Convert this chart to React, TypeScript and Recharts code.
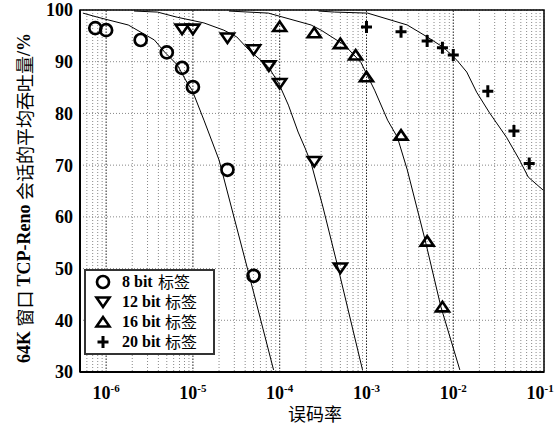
import React from "react";
import {
  ScatterChart, Scatter, XAxis, YAxis, CartesianGrid,
  ReferenceLine, ReferenceArea, Legend, Label,
} from "recharts";

// 实测点（误码率 / 平均吞吐量 %）
const BER_8 = [7.5e-7, 1e-6, 2.5e-6, 5e-6, 7.5e-6, 1e-5, 2.5e-5, 5e-5];
const THR_8 = [96.5, 96.1, 94.2, 91.8, 88.8, 85.1, 69.1, 48.6];
const BER_12 = [7.5e-6, 1e-5, 2.5e-5, 5e-5, 7.5e-5, 1e-4, 2.5e-4, 5e-4];
const THR_12 = [96.3, 96.3, 94.6, 92.3, 89.2, 85.8, 70.7, 50.1];
const BER_16 = [1e-4, 2.5e-4, 5e-4, 7.5e-4, 1e-3, 2.5e-3, 5e-3, 7.5e-3];
const THR_16 = [96.8, 95.6, 93.5, 91.3, 87.1, 75.8, 55.3, 42.6];
const BER_20 = [1e-3, 2.5e-3, 5e-3, 7.5e-3, 1e-2, 2.5e-2, 5e-2, 7.5e-2];
const THR_20 = [96.7, 95.8, 94.0, 92.7, 91.3, 84.3, 76.6, 70.3];

// 理论曲线
const CURVE_8_X = [5.4e-7, 8e-7, 1.8e-6, 3.6e-6, 4.7e-6, 6.6e-6, 8.6e-6, 9.8e-6, 1.34e-5, 2e-5, 4.5e-5, 8.5e-5];
const CURVE_8_Y = [99.4, 98.6, 97.1, 94.2, 91.9, 89.4, 85.9, 84.5, 78.7, 71.0, 48.4, 30.4];
const CURVE_12_X = [2.1e-6, 3.9e-6, 6.6e-6, 1.34e-5, 2.27e-5, 3.2e-5, 4.4e-5, 7.4e-5, 9.7e-5, 1.26e-4, 1.63e-4, 1.96e-4, 2.3e-4, 3.15e-4, 4.68e-4, 9e-4];
const CURVE_12_Y = [99.8, 99.6, 98.6, 97.5, 96.1, 94.8, 92.3, 89.0, 85.9, 81.6, 76.4, 73.3, 70.4, 61.9, 50.3, 30.4];
const CURVE_16_X = [2.6e-5, 7.4e-5, 2.3e-4, 3.0e-4, 5.6e-4, 8.6e-4, 1.24e-3, 1.75e-3, 2.27e-3, 2.95e-3, 4.74e-3, 7.2e-3, 1.19e-2];
const CURVE_16_Y = [99.8, 99.4, 97.1, 96.1, 93.2, 89.9, 84.5, 78.7, 75.4, 69.1, 55.5, 42.6, 30.4];
const CURVE_20_X = [2.8e-4, 4.3e-4, 1.03e-3, 2.95e-3, 5e-3, 7.8e-3, 1.1e-2, 1.43e-2, 1.86e-2, 2.62e-2, 4.1e-2, 5.8e-2, 7.3e-2, 0.108];
const CURVE_20_Y = [99.8, 99.6, 99.4, 97.1, 94.8, 92.7, 90.3, 88.0, 84.1, 80.1, 75.4, 71.0, 67.7, 65.2];

// 坐标轴
const X_DOMAIN = [5e-7, 0.111];
const X_DECADES = [1e-6, 1e-5, 1e-4, 1e-3, 1e-2, 1e-1];
const X_EXPONENTS = ["-6", "-5", "-4", "-3", "-2", "-1"];
const Y_TICKS = [30, 40, 50, 60, 70, 80, 90, 100];
const LEGEND_LABELS = ["8 bit", "12 bit", "16 bit", "20 bit"];

const zip = (xs: number[], ys: number[]) => xs.map((x, i) => ({ x, y: ys[i] }));

// 网格用的次刻度 2..9 × 10^n
const minorTicks: number[] = [];
for (let e = -7; e <= -2; e++) {
  for (let m = 2; m <= 9; m++) {
    const v = m * Math.pow(10, e);
    if (v >= X_DOMAIN[0] && v < 0.1) minorTicks.push(v);
  }
}
const X_TICKS = [...X_DECADES, ...minorTicks].sort((a, b) => a - b);

const SERIF = "'Liberation Serif', 'Times New Roman', serif";
const CJK = "'Noto Sans CJK SC', sans-serif";

const Circle = ({ cx, cy }: any) => (
  <circle cx={cx} cy={cy} r={6} fill="none" stroke="#000" strokeWidth={2.7} />
);
const Down = ({ cx, cy }: any) => (
  <path d={`M${cx - 6.5},${cy - 4.5}L${cx + 6.5},${cy - 4.5}L${cx},${cy + 5}Z`}
    fill="none" stroke="#000" strokeWidth={2.6} />
);
const Up = ({ cx, cy }: any) => (
  <path d={`M${cx - 6.5},${cy + 4.5}L${cx + 6.5},${cy + 4.5}L${cx},${cy - 5}Z`}
    fill="none" stroke="#000" strokeWidth={2.6} />
);
const Plus = ({ cx, cy }: any) => (
  <path d={`M${cx - 5.5},${cy}L${cx + 5.5},${cy}M${cx},${cy - 6}L${cx},${cy + 6}`}
    stroke="#000" strokeWidth={3} />
);
const NoDot = () => <g />;

const MARKERS = [Circle, Down, Up, Plus];

const XTick = ({ x, y, payload }: any) => {
  const i = X_DECADES.indexOf(payload.value);
  if (i < 0) return <g />;
  return (
    <text x={x} y={y + 27} textAnchor="middle" fontFamily={SERIF} fontWeight="bold" fontSize={18} fill="#000">
      10<tspan dy={-7} fontSize={11}>{X_EXPONENTS[i]}</tspan>
    </text>
  );
};

const LegendBox = () => (
  <svg width={131} height={86} style={{ display: "block" }}>
    <rect x={1} y={1} width={129} height={84} fill="#fff" stroke="#333" strokeWidth={2} />
    {LEGEND_LABELS.map((t, i) => {
      const M = MARKERS[i];
      const cy = 13 + i * 20;
      // "8 bit" 较短，"标签"相应左移
      const cjkX = i === 0 ? 74 : 81;
      return (
        <g key={t}>
          <M cx={19} cy={cy} />
          <text x={38} y={cy + 5} fontSize={16} fill="#000" fontFamily={SERIF} fontWeight="bold">{t}</text>
          <text x={cjkX} y={cy + 6} fontSize={16} fill="#000" fontFamily={CJK}>标签</text>
        </g>
      );
    })}
  </svg>
);

export default function App() {
  return (
    <div style={{ position: "absolute", left: 0, top: 0 }}>
      <ScatterChart width={555} height={426} margin={{ top: 10, right: 11, bottom: 0, left: 0 }}>
        <CartesianGrid stroke="#888" strokeDasharray="1 2" />
        <XAxis
          dataKey="x" type="number" scale="log" domain={X_DOMAIN} allowDataOverflow
          ticks={X_TICKS} interval={0} tick={<XTick />} tickLine={false}
          tickSize={0} tickMargin={0} height={54}
          axisLine={{ stroke: "#000", strokeWidth: 2 }}
        >
          <Label content={({ viewBox }: any) => (
            <text x={viewBox.x + viewBox.width / 2 + 3} y={viewBox.y + 49} textAnchor="middle"
              fontFamily={CJK} fontSize={18} fill="#000">误码率</text>
          )} />
        </XAxis>
        <YAxis
          dataKey="y" type="number" domain={[30, 100]} ticks={Y_TICKS} interval={0}
          width={80} tickLine={false} tickSize={0} tickMargin={7}
          tick={{ fontFamily: SERIF, fontWeight: "bold", fontSize: 18, fill: "#000" }}
          axisLine={{ stroke: "#000", strokeWidth: 2 }}
        >
          <Label content={() => (
            <text transform="translate(24,198) rotate(-90)" textAnchor="middle"
              dominantBaseline="central" fontSize={18} fill="#000">
              <tspan fontFamily={SERIF} fontWeight="bold">64K </tspan>
              <tspan fontFamily={CJK}>窗口 </tspan>
              <tspan fontFamily={SERIF} fontWeight="bold">TCP-Reno </tspan>
              <tspan fontFamily={CJK}>会话的平均吞吐量</tspan>
              <tspan fontFamily={SERIF} fontWeight="bold">/%</tspan>
            </text>
          )} />
        </YAxis>
        <YAxis
          yAxisId="r" orientation="right" type="number" domain={[30, 100]} ticks={Y_TICKS}
          width={0} mirror axisLine={false} tickSize={4} tickFormatter={() => ""}
          tickLine={{ stroke: "#000" }}
        />
        {X_DECADES.slice(0, 5).map((d) => (
          <ReferenceLine key={d} x={d} stroke="#222" strokeDasharray="1 2" />
        ))}
        <ReferenceArea x1={X_DOMAIN[0]} x2={X_DOMAIN[1]} y1={30} y2={100}
          fill="none" stroke="#000" strokeWidth={1.5} ifOverflow="visible" />

        <Scatter data={zip(CURVE_8_X, CURVE_8_Y)} line={{ stroke: "#000", strokeWidth: 1 }} shape={NoDot} isAnimationActive={false} legendType="none" />
        <Scatter data={zip(CURVE_12_X, CURVE_12_Y)} line={{ stroke: "#000", strokeWidth: 1 }} shape={NoDot} isAnimationActive={false} legendType="none" />
        <Scatter data={zip(CURVE_16_X, CURVE_16_Y)} line={{ stroke: "#000", strokeWidth: 1 }} shape={NoDot} isAnimationActive={false} legendType="none" />
        <Scatter data={zip(CURVE_20_X, CURVE_20_Y)} line={{ stroke: "#000", strokeWidth: 1 }} shape={NoDot} isAnimationActive={false} legendType="none" />

        <Scatter name="8 bit 标签" data={zip(BER_8, THR_8)} shape={Circle} isAnimationActive={false} />
        <Scatter name="12 bit 标签" data={zip(BER_12, THR_12)} shape={Down} isAnimationActive={false} />
        <Scatter name="16 bit 标签" data={zip(BER_16, THR_16)} shape={Up} isAnimationActive={false} />
        <Scatter name="20 bit 标签" data={zip(BER_20, THR_20)} shape={Plus} isAnimationActive={false} />

        <Legend content={<LegendBox />} layout="vertical" align="center" verticalAlign="middle"
          wrapperStyle={{ left: 84, top: 269, width: 131, height: 86 }} />
      </ScatterChart>
    </div>
  );
}
